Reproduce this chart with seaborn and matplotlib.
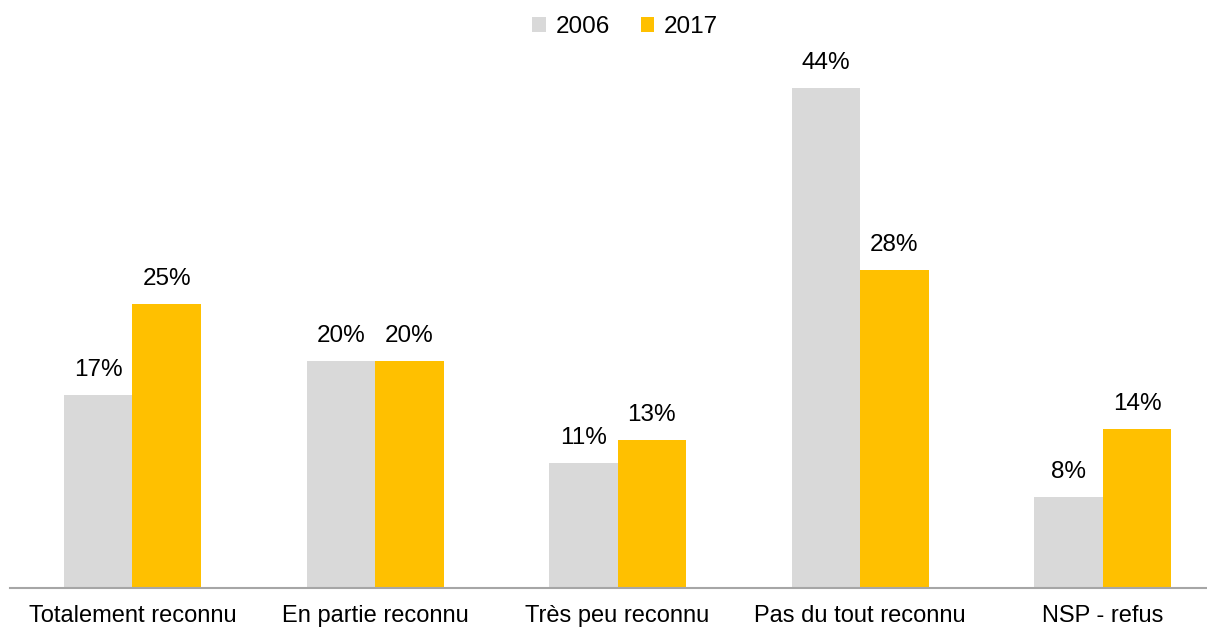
import pandas as pd
import matplotlib.pyplot as plt
import seaborn as sns

# Data
categories = ['Totalement reconnu', 'En partie reconnu', 'Très peu reconnu',
              'Pas du tout reconnu', 'NSP - refus']
values_2006 = [17, 20, 11, 44, 8]
values_2017 = [25, 20, 13, 28, 14]
years = ['2006', '2017']

df = pd.DataFrame({
    'categorie': categories * 2,
    'annee': [years[0]] * len(categories) + [years[1]] * len(categories),
    'valeur': values_2006 + values_2017,
})

sns.set_theme(style='white')
plt.rcParams['font.family'] = ['Liberation Sans', 'DejaVu Sans']

fig = plt.figure(figsize=(12.07, 6.31), dpi=100)
ax = fig.add_axes([10 / 1207, 43 / 631, 1 - 10 / 1207, 588 / 631])

palette = {'2006': '#D9D9D9', '2017': '#FFC000'}
sns.barplot(data=df, x='categorie', y='valeur', hue='annee', palette=palette,
            width=0.565, saturation=1, linewidth=0, ax=ax, legend=True)

for cont in ax.containers:
    ax.bar_label(cont, labels=[f'{v:.0f}%' for v in cont.datavalues],
                 padding=10, fontsize=17.5, color='#000000')

ax.set_xlim(-0.505, 4.43)
ax.set_ylim(0, 51.76)
ax.set_xlabel('')
ax.set_ylabel('')
ax.set_yticks([])
ax.tick_params(axis='x', labelsize=17, colors='#000000', length=0, pad=12)
for side in ['top', 'right', 'left']:
    ax.spines[side].set_visible(False)
ax.spines['bottom'].set_color('#A6A6A6')
ax.spines['bottom'].set_linewidth(1.5)

ax.legend(loc='upper center', bbox_to_anchor=(0.514, 1.01), ncol=2, frameon=False,
          fontsize=17.5, handlelength=0.55, handleheight=0.55, handletextpad=0.4,
          columnspacing=1.3, title=None, labelcolor='#000000')

fig.savefig('out.png', dpi=100)
